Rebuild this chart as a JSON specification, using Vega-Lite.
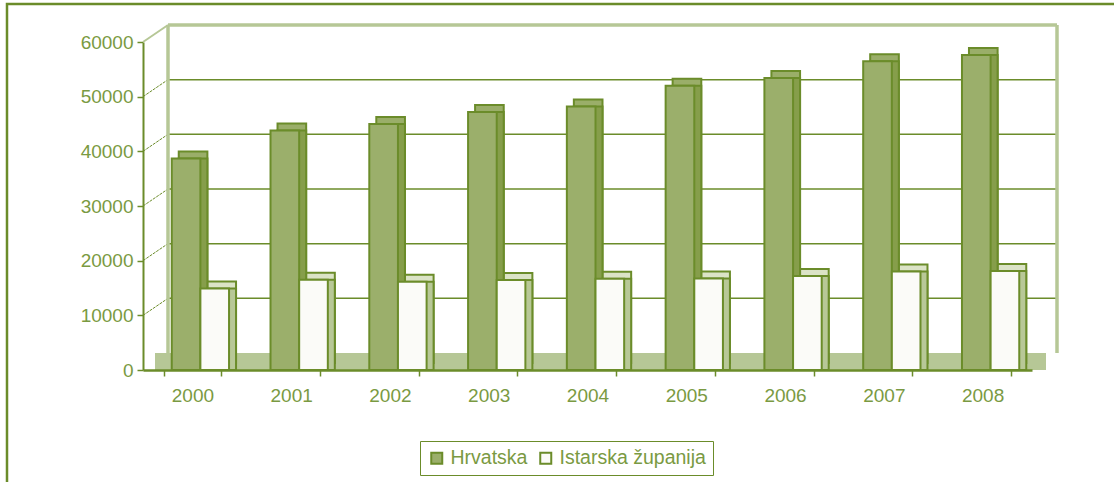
{
  "$schema": "https://vega.github.io/schema/vega-lite/v6.json",
  "width": 1107,
  "height": 478,
  "autosize": {"type": "none"},
  "padding": {"left": 7, "top": 4, "right": 0, "bottom": 0},
  "background": "#ffffff",
  "config": {
    "view": {"stroke": "#6b8c2a", "strokeWidth": 2.5, "strokeDash": [1107, 1585, 478]},
    "font": "Liberation Sans",
    "axis": {"labelFont": "Liberation Sans", "labelFontSize": 19, "labelColor": "#7a9a42", "domainColor": "#6b8c2a", "tickColor": "#6b8c2a", "grid": false, "title": null},
    "legend": {"labelFont": "Liberation Sans"}
  },
  "datasets": {
    "bars": [
      {"year": "2000", "series": "Hrvatska", "value": 38700},
      {"year": "2001", "series": "Hrvatska", "value": 43800},
      {"year": "2002", "series": "Hrvatska", "value": 45000},
      {"year": "2003", "series": "Hrvatska", "value": 47200},
      {"year": "2004", "series": "Hrvatska", "value": 48200},
      {"year": "2005", "series": "Hrvatska", "value": 52000},
      {"year": "2006", "series": "Hrvatska", "value": 53400},
      {"year": "2007", "series": "Hrvatska", "value": 56500},
      {"year": "2008", "series": "Hrvatska", "value": 57600},
      {"year": "2000", "series": "Istarska županija", "value": 14900},
      {"year": "2001", "series": "Istarska županija", "value": 16500},
      {"year": "2002", "series": "Istarska županija", "value": 16150},
      {"year": "2003", "series": "Istarska županija", "value": 16450},
      {"year": "2004", "series": "Istarska županija", "value": 16700},
      {"year": "2005", "series": "Istarska županija", "value": 16750},
      {"year": "2006", "series": "Istarska županija", "value": 17200},
      {"year": "2007", "series": "Istarska županija", "value": 18000},
      {"year": "2008", "series": "Istarska županija", "value": 18100}
    ],
    "grid": [
      {"g": 10000}, {"g": 20000}, {"g": 30000}, {"g": 40000}, {"g": 50000}
    ],
    "one": [{"k": 1}]
  },
  "resolve": {"scale": {"xOffset": "independent"}},
  "layer": [
    {
      "data": {"name": "one"},
      "mark": {"type": "rect", "color": "#b6c796", "xOffset": 12, "x2Offset": 14, "y2Offset": -17},
      "encoding": {
        "x": {"datum": "2000", "bandPosition": -0.362, "scale": {"type": "band", "domain": ["2000","2001","2002","2003","2004","2005","2006","2007","2008"], "range": [136, 1025], "paddingInner": 0.42, "paddingOuter": 0.21}, "axis": {"labelPadding": 10, "tickSize": 6, "tickBand": "extent", "domainWidth": 2.5, "tickWidth": 1.5, "labelAngle": 0, "offset": -112}},
        "x2": {"datum": "2008", "bandPosition": 1.362},
        "y": {"datum": 0, "type": "quantitative", "scale": {"domain": [0, 60000], "range": [366, 38], "nice": false}, "axis": {"values": [0, 10000, 20000, 30000, 40000, 50000, 60000], "format": "d", "tickSize": 6, "labelPadding": 4, "domainWidth": 2, "tickWidth": 1.5, "offset": -136}},
        "y2": {"datum": 0}
      }
    },
    {
      "data": {"name": "grid"},
      "mark": {"type": "rule", "color": "#6b8c2a", "strokeWidth": 1.5, "xOffset": 25, "x2Offset": 25, "yOffset": -17},
      "encoding": {
        "x": {"datum": "2000", "bandPosition": -0.362},
        "x2": {"datum": "2008", "bandPosition": 1.362},
        "y": {"field": "g", "type": "quantitative"}
      }
    },
    {
      "data": {"name": "grid"},
      "mark": {"type": "rule", "color": "#6b8c2a", "strokeWidth": 1, "strokeDash": [3, 1], "x2Offset": 25, "y2Offset": -17},
      "encoding": {
        "x": {"datum": "2000", "bandPosition": -0.362},
        "x2": {"datum": "2000", "bandPosition": -0.362},
        "y": {"field": "g", "type": "quantitative"},
        "y2": {"field": "g"}
      }
    },
    {
      "data": {"name": "one"},
      "mark": {"type": "rule", "color": "#b6c796", "strokeWidth": 2, "x2Offset": 25, "y2Offset": -17},
      "encoding": {
        "x": {"datum": "2000", "bandPosition": -0.362},
        "x2": {"datum": "2000", "bandPosition": -0.362},
        "y": {"datum": 60000},
        "y2": {"datum": 60000}
      }
    },
    {
      "data": {"name": "one"},
      "mark": {"type": "rule", "color": "#b6c796", "strokeWidth": 3.5, "xOffset": 25, "x2Offset": 25, "yOffset": -17},
      "encoding": {
        "x": {"datum": "2000", "bandPosition": -0.362},
        "x2": {"datum": "2008", "bandPosition": 1.362},
        "y": {"datum": 60000}
      }
    },
    {
      "data": {"name": "one"},
      "mark": {"type": "rule", "color": "#b6c796", "strokeWidth": 3.5, "xOffset": 25, "yOffset": -17, "y2Offset": -17},
      "encoding": {
        "x": {"datum": "2000", "bandPosition": -0.362},
        "y": {"datum": 0},
        "y2": {"datum": 60000}
      }
    },
    {
      "data": {"name": "one"},
      "mark": {"type": "rule", "color": "#b6c796", "strokeWidth": 3.5, "xOffset": 25, "yOffset": -17, "y2Offset": -17},
      "encoding": {
        "x": {"datum": "2008", "bandPosition": 1.362},
        "y": {"datum": 0},
        "y2": {"datum": 60000}
      }
    },
    {
      "data": {"name": "bars"},
      "mark": {"type": "bar", "stroke": "#6b8c2a", "strokeWidth": 2, "yOffset": -7, "y2Offset": -10},
      "encoding": {
        "x": {"field": "year", "type": "nominal"},
        "xOffset": {"field": "series", "type": "nominal", "scale": {"domain": ["Hrvatska", "Istarska županija"], "range": [15, 72.3], "paddingInner": 0, "paddingOuter": 0}},
        "y": {"field": "value", "type": "quantitative"},
        "fill": {"condition": {"test": "datum.series === 'Hrvatska'", "value": "#9aae69"}, "value": "#dbe3c6"}
      }
    },
    {
      "data": {"name": "bars"},
      "mark": {"type": "bar", "stroke": "#6b8c2a", "strokeWidth": 2, "y2Offset": -3},
      "encoding": {
        "x": {"field": "year", "type": "nominal"},
        "xOffset": {"field": "series", "type": "nominal", "scale": {"domain": ["Hrvatska", "Istarska županija"], "range": [15, 72.3], "paddingInner": 0, "paddingOuter": 0}},
        "y": {"field": "value", "type": "quantitative"},
        "fill": {"condition": {"test": "datum.series === 'Hrvatska'", "value": "#869e4b"}, "value": "#b8c897"}
      }
    },
    {
      "data": {"name": "bars"},
      "mark": {"type": "bar", "stroke": "#6b8c2a", "strokeWidth": 2, "y2Offset": -3, "fillOpacity": 1},
      "encoding": {
        "x": {"field": "year", "type": "nominal"},
        "xOffset": {"field": "series", "type": "nominal", "scale": {"domain": ["Hrvatska", "Istarska županija"], "range": [8, 65.3], "paddingInner": 0, "paddingOuter": 0}},
        "y": {"field": "value", "type": "quantitative"},
        "color": {
          "field": "series", "type": "nominal",
          "scale": {"domain": ["Hrvatska", "Istarska županija"], "range": ["#9baf6b", "#fbfbf8"]},
          "legend": {
            "title": null, "orient": "none", "legendX": 413, "legendY": 437, "direction": "horizontal",
            "strokeColor": "#6b8c2a", "padding": 7, "symbolType": "square", "symbolSize": 121,
            "symbolStrokeColor": "#6b8c2a", "symbolStrokeWidth": 2, "symbolOpacity": 1,
            "labelFontSize": 19.5, "labelColor": "#7a9a42", "labelOffset": 4, "columnPadding": 8
          }
        },
        "stroke": {"value": "#6b8c2a"}
      }
    }
  ]
}
